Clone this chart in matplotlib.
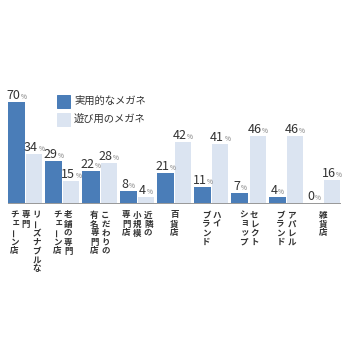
import matplotlib.pyplot as plt
from matplotlib.patches import Rectangle

plt.rcParams['font.family'] = ['Noto Sans CJK JP', 'DejaVu Sans']

# label columns, read right to left (first column = rightmost)
categories = [
    ["リーズナブルな", "専門", "チェーン店"],
    ["老舗の専門", "チェーン店"],
    ["こだわりの", "有名専門店"],
    ["近隣の", "小規模", "専門店"],
    ["百貨店"],
    ["ハイ", "ブランド"],
    ["セレクト", "ショップ"],
    ["アパレル", "ブランド"],
    ["雑貨店"],
]
practical = [70, 29, 22, 8, 21, 11, 7, 4, 0]
fun = [34, 15, 28, 4, 42, 41, 46, 46, 16]
series_names = ["実用的なメガネ", "遊び用のメガネ"]

dark = '#4a7db8'
light = '#dbe4f1'
W = 360.0
small_kana = set('ェュョッャ')

fig = plt.figure(figsize=(5, 5), dpi=72)
ax = fig.add_axes([8 / W, 1 - 203 / W, 332 / W, 162 / W])

x = list(range(len(practical)))
ax.bar([i - 0.24 for i in x], practical, width=0.46, color=dark)
ax.bar([i + 0.235 for i in x], fun, width=0.43, color=light)
ax.set_xlim(-0.47, 8.45)
ax.set_ylim(0, 112)
for s in ['top', 'left', 'right']:
    ax.spines[s].set_visible(False)
ax.spines['bottom'].set_color('#9a9a9a')
ax.spines['bottom'].set_linewidth(1.0)
ax.set_xticks([])
ax.set_yticks([])


def value_label(xc, v):
    nw = len(str(v)) * 7.1
    pw = 6.5
    off = (nw - pw) / 2
    ax.annotate(str(v), xy=(xc, v), xytext=(off, 3), textcoords='offset points',
                ha='right', va='baseline', fontsize=12.5, color='#333333')
    ax.annotate('%', xy=(xc, v), xytext=(off + 0.2, 3), textcoords='offset points',
                ha='left', va='baseline', fontsize=6.5, color='#777777')


for i in x:
    value_label(i - 0.24, practical[i])
    value_label(i + 0.235, fun[i])

# vertical category labels
pitch = 9.0
colgap = 11.0
for i, cols in enumerate(categories):
    n = len(cols)
    for k, col in enumerate(cols):
        dx = ((n - 1) / 2 - k) * colgap
        for j, ch in enumerate(col):
            rot = 90 if ch == 'ー' else 0
            sx, sy = (1.5, 1.5) if ch in small_kana else (0, 0)
            ax.annotate(ch, xy=(i, 0), xytext=(dx + sx, -12 - j * pitch + sy),
                        textcoords='offset points', ha='center', va='center',
                        fontsize=8.5, fontweight='bold', color='#333333',
                        rotation=rot, annotation_clip=False)

# legend
for r, (name, c) in enumerate(zip(series_names, [dark, light])):
    yc = 101 + r * 18
    fig.patches.append(Rectangle((57 / W, 1 - (yc + 6.5) / W), 13 / W, 13 / W,
                                 transform=fig.transFigure, color=c))
    fig.text(74 / W, 1 - yc / W, name, ha='left', va='center',
             fontsize=10.3, color='#333333')

fig.savefig('out.png', dpi=72)
